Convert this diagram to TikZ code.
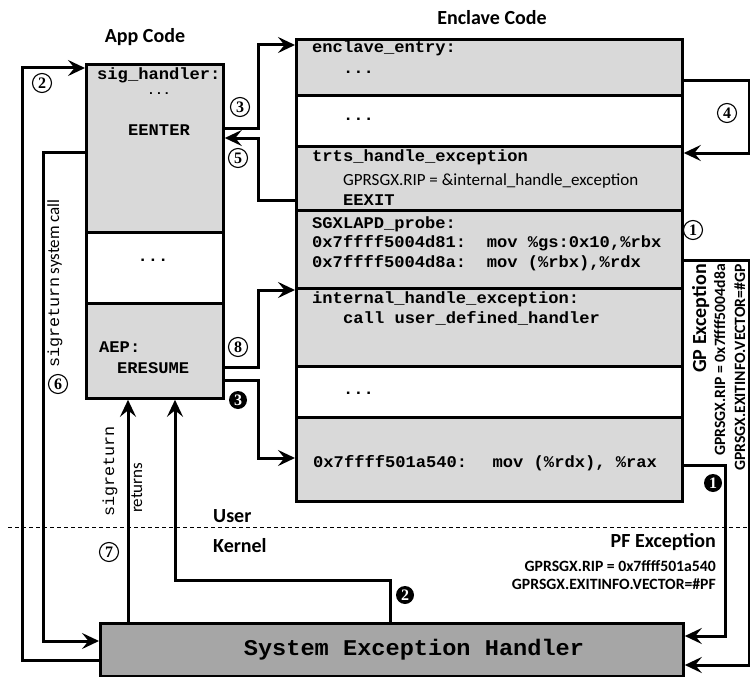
\documentclass[tikz,border=0pt]{standalone}
\usepackage{fontspec}
\setmainfont{Carlito}
\newfontfamily\codefont{Liberation Mono}[FakeStretch=1.05]
\newfontfamily\numfont{Liberation Serif}
\usetikzlibrary{arrows.meta}
\definecolor{lightg}{RGB}{217,217,217}
\definecolor{sysg}{RGB}{166,166,166}
\begin{document}
\begin{tikzpicture}[x=1pt,y=-1pt,
  arr/.style={line width=3pt, -{Stealth[length=17pt,width=16pt,inset=6.5pt]}},
  sec/.style={draw, line width=2.8pt, anchor=north west, inner sep=0pt, fill=lightg},
  wsec/.style={sec, fill=white},
  code/.style={font=\codefont\bfseries\fontsize{16.3}{20}\selectfont, inner sep=0pt, anchor=base west},
  head/.style={font=\bfseries\fontsize{20}{24}\selectfont, inner sep=0pt},
  small/.style={font=\bfseries\fontsize{15.7}{18}\selectfont, inner sep=0pt},
  cnum/.style={circle, draw, line width=1.1pt, fill=white, inner sep=0pt, minimum size=19pt, font=\numfont\bfseries\fontsize{16}{16}\selectfont},
  bnum/.style={circle, fill=black, text=white, inner sep=0pt, minimum size=18pt, font=\numfont\bfseries\fontsize{16}{16}\selectfont}]
\useasboundingbox (0,0) rectangle (750,677);

% App code boxes
\node[sec, minimum width=137pt, minimum height=168pt] (appA) at (85,63) {};
\node[wsec, minimum width=137pt, minimum height=71pt] (appB) at (85,231) {};
\node[sec, minimum width=137pt, minimum height=95pt] (appC) at (85,302) {};

% Enclave code boxes
\node[sec, minimum width=386pt, minimum height=56pt] (enA) at (295,38) {};
\node[wsec, minimum width=386pt, minimum height=51pt] (enB) at (295,94) {};
\node[sec, minimum width=386pt, minimum height=64pt] (enC) at (295,145) {};
\node[sec, minimum width=386pt, minimum height=78pt] (enD) at (295,209) {};
\node[sec, minimum width=386pt, minimum height=78pt] (enE) at (295,287) {};
\node[wsec, minimum width=386pt, minimum height=51pt] (enF) at (295,365) {};
\node[sec, minimum width=386pt, minimum height=84pt] (enG) at (295,416) {};

% System exception handler
\node[sec, fill=sysg, minimum width=583pt, minimum height=53pt] (sys) at (99,622) {};

% Texts in app boxes
\node[code] (t1) at (97,80) {sig\_handler:};
\node[code, anchor=base, font=\codefont\bfseries\fontsize{12.5}{14}\selectfont] (t2) at (159,95) {...};
\node[code, anchor=base] (t3) at (159,135.5) {EENTER};
\node[code, anchor=base] (t4) at (153,261) {...};
\node[code] (t5) at (99,352.5) {AEP:};
\node[code] (t6) at (117,373.5) {ERESUME};

% Texts in enclave boxes
\node[code] (e1) at (312,52.5) {enclave\_entry:};
\node[code] (e2) at (343,74) {...};
\node[code] (e3) at (343,120) {...};
\node[code] (e4) at (312,161.5) {trts\_handle\_exception};
\node[inner sep=0pt, anchor=base west, font=\fontsize{17}{20}\selectfont] (e5) at (343,185.5) {GPRSGX.RIP = \&internal\_handle\_exception};
\node[code] (e6) at (343,205) {EEXIT};
\node[code] (e7) at (312,228.5) {SGXLAPD\_probe:};
\node[code] (e8) at (312,247) {0x7ffff5004d81:\ \ mov \%gs:0x10,\%rbx};
\node[code] (e9) at (312,267.5) {0x7ffff5004d8a:\ \ mov (\%rbx),\%rdx};
\node[code] (e10) at (312,303) {internal\_handle\_exception:};
\node[code] (e11) at (343,323) {call user\_defined\_handler};
\node[code] (e12) at (343,394) {...};
\node[code] (e13) at (313,467) {0x7ffff501a540:\ \ \hspace{0.3em}mov (\%rdx), \%rax};
\node[code, anchor=base, font=\codefont\bfseries\fontsize{22.5}{26}\selectfont] (s1) at (414,655) {System Exception Handler};

% Headings
\node[head, anchor=base] (lapp) at (145,43) {App Code};
\node[head, anchor=base] (lenc) at (492,25) {Enclave Code};
\node[head, anchor=base west] (luser) at (213,522) {User};
\node[head, anchor=base west] (lkern) at (213,552) {Kernel};

% PF exception
\node[head, anchor=base east] (pf1) at (716,547) {PF Exception};
\node[small, anchor=base east] (pf2) at (716,571) {GPRSGX.RIP = 0x7ffff501a540};
\node[small, anchor=base east] (pf3) at (716,589) {GPRSGX.EXITINFO.VECTOR=\#PF};

% GP exception (rotated)
\node[head, rotate=90, anchor=base east] (gp1) at (706,264) {GP Exception};
\node[small, rotate=90, anchor=base east] (gp2) at (725,264) {GPRSGX.RIP = 0x7ffff5004d8a};
\node[small, rotate=90, anchor=base east] (gp3) at (745,264) {GPRSGX.EXITINFO.VECTOR=\#GP};

% rotated labels
\node[rotate=90, anchor=base west, inner sep=0pt] (sc) at (59,368)
  {{\codefont\fontsize{16}{18}\selectfont sigreturn}\hspace{0.3em}{\fontsize{17}{18}\selectfont system call}};
\node[rotate=90, anchor=base west, inner sep=0pt, font=\codefont\fontsize{16}{18}\selectfont] (sr1) at (114,517) {sigreturn};
\node[rotate=90, anchor=base west, inner sep=0pt, font=\fontsize{17}{18}\selectfont] (sr2) at (142,513) {returns};

% User/Kernel separator
\coordinate (dl) at (8,527);
\coordinate (dr) at (750,527);
\draw[line width=1pt, dash pattern=on 4pt off 3pt] (dl) -- (dr);

% Connectors
\draw[arr] (appA.east |- 0,128) -- (258,128) -- (258,45) -- (enA.west |- 0,45);
\draw[arr] (enC.west |- 0,200) -- (258,200) -- (258,138) -- (appA.east |- 0,138);
\draw[arr] (enA.east |- 0,81) -- (749,81) -- (749,153) -- (enC.east |- 0,153);
\draw[arr] (sys.west |- 0,660) -- (22,660) -- (22,68) -- (appA.west |- 0,68);
\draw[arr] (appA.west |- 0,152) -- (43,152) -- (43,641) -- (sys.west |- 0,641);
\draw[arr] (sys.north -| 128,0) -- (appC.south -| 128,0);
\draw[arr] (sys.north -| 390,0) -- (390,580) -- (175,580) -- (appC.south -| 175,0);
\draw[arr] (appC.east |- 0,380) -- (258,380) -- (258,458) -- (enG.west |- 0,458);
\draw[arr] (appC.east |- 0,367) -- (258,367) -- (258,290) -- (enE.west |- 0,290);
\draw[arr] (enG.east |- 0,465) -- (725,465) -- (725,636) -- (sys.east |- 0,636);
\draw[arr] (enD.east |- 0,260) -- (749,260) -- (749,665) -- (sys.east |- 0,665);

% Step numbers
\node[cnum] (n2) at (42,83) {2};
\node[cnum] (n3) at (240,107) {3};
\node[cnum] (n5) at (238,158) {5};
\node[cnum] (n4) at (727,113) {4};
\node[cnum] (n1) at (693,230) {1};
\node[cnum] (n6) at (58,384) {6};
\node[cnum] (n8) at (238,347) {8};
\node[cnum] (n7) at (109,552) {7};
\node[bnum] (b3) at (238,400) {3};
\node[bnum] (b2) at (405,595) {2};
\node[bnum] (b1) at (713,483) {1};
\end{tikzpicture}
\end{document}
